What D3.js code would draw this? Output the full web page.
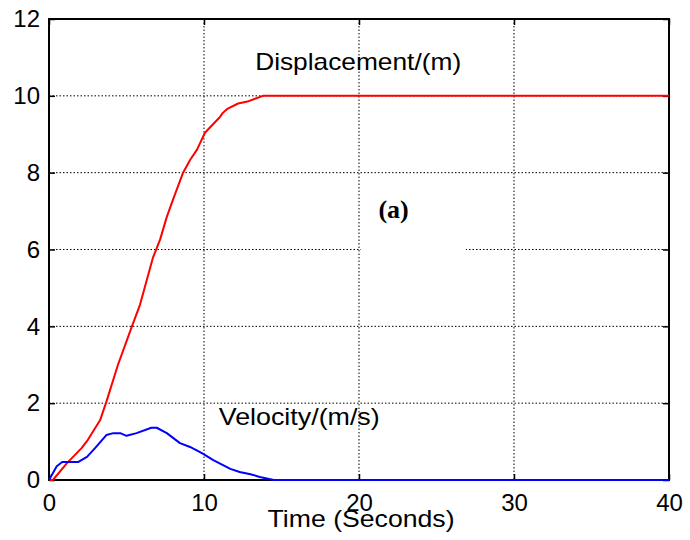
<!DOCTYPE html>
<html>
<head>
<meta charset="utf-8">
<script src="https://cdn.jsdelivr.net/npm/d3@7"></script>
<style>
    body { margin: 0; background: #fff; }
    svg { display: block; font-family: "Liberation Sans", Arial, sans-serif; }
    .axis path { display: none; }
    .axis line { stroke: #000; stroke-width: 1.5; }
    .axis text { font-size: 24px; fill: #000; font-family: "Liberation Sans", Arial, sans-serif; }
    .grid { stroke: #000; stroke-width: 1; stroke-dasharray: 1.5, 2; }
    .line { fill: none; stroke-width: 2; stroke-linejoin: round; }
    .label-text { font-size: 24px; fill: #000; }
</style>
</head>
<body>
<script>
// displacement curve (m)
var dispTime = [0, 0.25, 1.16, 2.1, 2.5, 3.3, 3.72, 4.45, 5.35, 5.87, 6.7, 7.16, 7.6, 8.0, 8.65, 9.1, 9.55, 10.06, 11.03, 11.2, 11.5, 12.2, 12.8, 13.8, 40];
var dispValue = [0, 0, 0.44, 0.83, 1.04, 1.56, 2.06, 3.0, 4.0, 4.56, 5.78, 6.25, 6.85, 7.3, 8.0, 8.33, 8.6, 9.04, 9.45, 9.55, 9.66, 9.8, 9.85, 10, 10];

// velocity curve (m/s)
var velTime = [0, 0.5, 0.85, 1.9, 2.45, 2.97, 3.7, 4.15, 4.6, 5.0, 5.65, 6.6, 6.95, 7.6, 8.45, 9.1, 9.5, 9.95, 10.6, 11.7, 12.3, 13.0, 13.6, 14.5, 40];
var velValue = [0, 0.36, 0.47, 0.47, 0.6, 0.83, 1.17, 1.22, 1.22, 1.15, 1.22, 1.36, 1.36, 1.22, 0.96, 0.86, 0.78, 0.68, 0.52, 0.29, 0.21, 0.15, 0.08, 0, 0];

var xTicks = [0, 10, 20, 30, 40];
var yTicks = [0, 2, 4, 6, 8, 10, 12];

var margin = {top: 19, right: 21, bottom: 60, left: 49};
var width = 690 - margin.left - margin.right;
var height = 540 - margin.top - margin.bottom;

var svg = d3.select("body").append("svg")
    .attr("width", 690)
    .attr("height", 540)
    .append("g")
    .attr("transform", "translate(" + margin.left + "," + margin.top + ")");

var xScale = d3.scaleLinear().domain([0, 40]).range([0, width]);
var yScale = d3.scaleLinear().domain([0, 12]).range([height, 0]);

// dotted grid
svg.selectAll(".gx")
    .data(xTicks.slice(1, -1))
    .enter()
    .append("line")
    .attr("class", "grid")
    .attr("x1", function(d) { return xScale(d); })
    .attr("x2", function(d) { return xScale(d); })
    .attr("y1", 0)
    .attr("y2", height);

svg.selectAll(".gy")
    .data(yTicks.slice(1, -1))
    .enter()
    .append("line")
    .attr("class", "grid")
    .attr("x1", 0)
    .attr("x2", width)
    .attr("y1", function(d) { return yScale(d); })
    .attr("y2", function(d) { return yScale(d); });

// white label box sitting over the grid
svg.append("rect")
    .attr("x", xScale(20) + 2)
    .attr("y", yScale(7.4))
    .attr("width", xScale(26.9) - xScale(20) - 2)
    .attr("height", yScale(5.7) - yScale(7.4))
    .attr("fill", "#fff");

svg.append("text")
    .attr("x", xScale(21.25))
    .attr("y", yScale(6.82))
    .style("font-family", "'Liberation Serif', 'Times New Roman', serif")
    .style("font-weight", "bold")
    .style("font-size", "26px")
    .text("(a)");

// axes with inward ticks
svg.append("g")
    .attr("class", "axis")
    .attr("transform", "translate(0," + height + ")")
    .call(d3.axisBottom(xScale).tickValues(xTicks).tickSize(-6).tickPadding(14));

svg.append("g")
    .attr("class", "axis")
    .call(d3.axisLeft(yScale).tickValues(yTicks).tickSize(-6).tickPadding(9));

svg.append("g")
    .attr("class", "axis")
    .call(d3.axisTop(xScale).tickValues(xTicks).tickSize(-6).tickFormat(""));

svg.append("g")
    .attr("class", "axis")
    .attr("transform", "translate(" + width + ",0)")
    .call(d3.axisRight(yScale).tickValues(yTicks).tickSize(-6).tickFormat(""));

svg.append("rect")
    .attr("x", 0)
    .attr("y", 0)
    .attr("width", width)
    .attr("height", height)
    .attr("fill", "none")
    .attr("stroke", "#000")
    .attr("stroke-width", 2);

var line = d3.line()
    .x(function(d) { return xScale(d[0]); })
    .y(function(d) { return yScale(d[1]); });

svg.append("path")
    .attr("class", "line")
    .attr("stroke", "#ff0000")
    .attr("d", line(d3.zip(dispTime, dispValue)));

svg.append("path")
    .attr("class", "line")
    .attr("stroke", "#0000ff")
    .attr("d", line(d3.zip(velTime, velValue)));

// curve labels, a little wider than plain 24px Arial
svg.append("text")
    .attr("class", "label-text")
    .attr("x", xScale(13.3))
    .attr("y", yScale(10.67))
    .attr("textLength", 206)
    .attr("lengthAdjust", "spacingAndGlyphs")
    .text("Displacement/(m)");

svg.append("text")
    .attr("class", "label-text")
    .attr("x", xScale(10.95))
    .attr("y", yScale(1.43))
    .attr("textLength", 161)
    .attr("lengthAdjust", "spacingAndGlyphs")
    .text("Velocity/(m/s)");

svg.append("text")
    .attr("class", "label-text")
    .attr("x", xScale(14.1))
    .attr("y", height + 47)
    .attr("textLength", 187)
    .attr("lengthAdjust", "spacingAndGlyphs")
    .text("Time (Seconds)");
</script>
</body>
</html>
